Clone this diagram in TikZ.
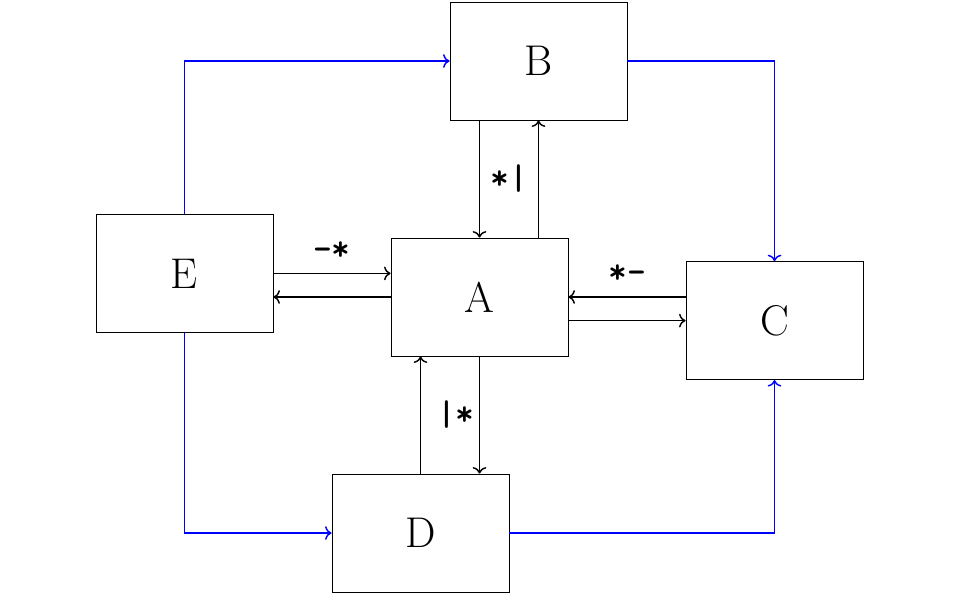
\documentclass[tikz,border=0pt]{standalone}
\usepackage{xcolor}
\usepackage{tikz}
\usetikzlibrary{arrows.meta,positioning,calc}
\definecolor{myblue}{RGB}{0,0,255}

\tikzset{
  mybox/.style={draw=black, minimum width=3cm, minimum height=2cm,
                font=\huge, inner sep=0pt},
  mylink/.style={->, line width=0.7pt},
  myblink/.style={->, line width=0.7pt, draw=myblue},
  mylabel/.style={font=\LARGE\ttfamily\bfseries}
}

\begin{document}
\begin{tikzpicture}
  \useasboundingbox (-8.127,-5.068) rectangle (8.144,5.034);
  \node[mybox] (A) at (0,0) {A};
  \node[mybox] (B) at (1,4) {B};
  \node[mybox] (C) at (5,-0.4) {C};
  \node[mybox] (D) at (-1,-4) {D};
  \node[mybox] (E) at (-5,0.4) {E};
  % A <-> B
  \draw[mylink] (B.south -| A.north) -- (A.north);
  \draw[mylink] (A.north -| B.south) -- (B.south);
  \node[mylabel] (lab) at ($(A.north)!0.5!(B.south)$) {*|};
  % E <-> A
  \draw[mylink] (E.east) -- (E.east -| A.west);
  \draw[mylink] (A.west) -- (A.west -| E.east);
  \node[mylabel, above=0.1cm] (lae) at ($(E.east)!0.5!(E.east -| A.west)$) {-*};
  % A <-> C
  \draw[mylink] (C.west |- A.east) -- (A.east);
  \draw[mylink] (A.east |- C.west) -- (C.west);
  \node[mylabel, above=0.1cm] (lac) at ($(A.east)!0.5!(C.west |- A.east)$) {*-};
  % A <-> D
  \draw[mylink] (D.north) -- (D.north |- A.south);
  \draw[mylink] (A.south) -- (A.south |- D.north);
  \node[mylabel, xshift=0.1cm] (lad) at ($(D.north |- A.south)!0.5!(A.south |- D.north)$) {|*};
  % outer ring
  \draw[myblink] (E.north) |- (B.west);
  \draw[myblink] (B.east) -| (C.north);
  \draw[myblink] (E.south) |- (D.west);
  \draw[myblink] (D.east) -| (C.south);
\end{tikzpicture}
\end{document}
